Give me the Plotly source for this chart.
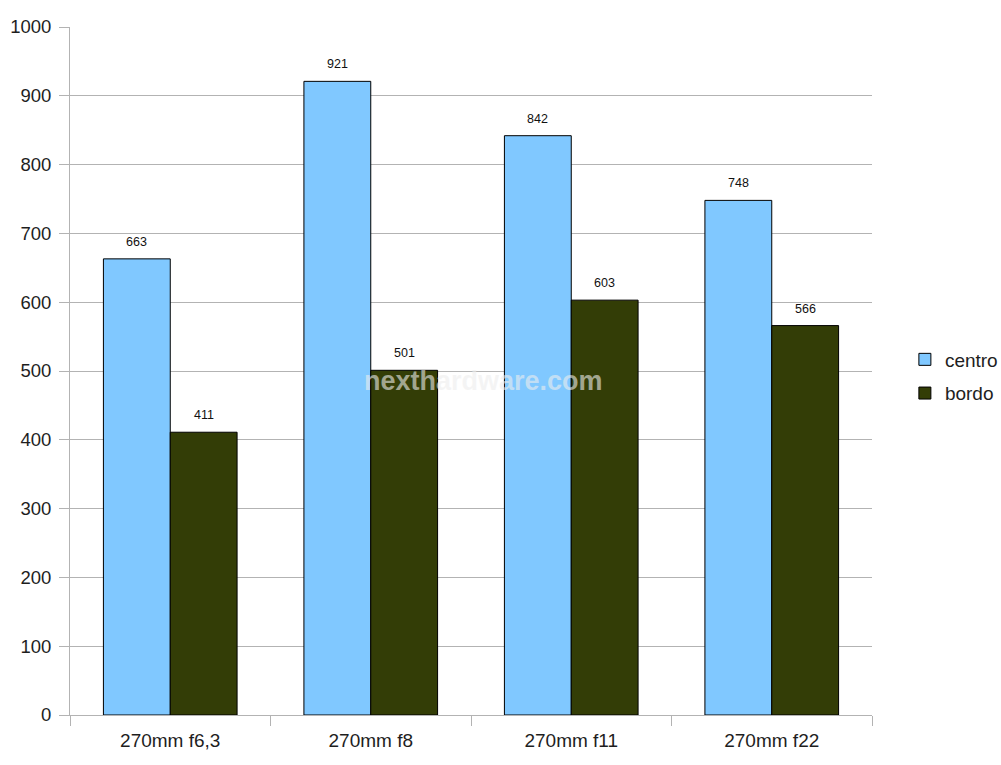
import plotly.graph_objects as go

categories = ["270mm f6,3", "270mm f8", "270mm f11", "270mm f22"]
centro = [663, 921, 842, 748]
bordo = [411, 501, 603, 566]
y_ticks = [0, 100, 200, 300, 400, 500, 600, 700, 800, 900, 1000]

LABEL_FONT = dict(family="Liberation Sans, Arial", size=12.5, color="#111111")

fig = go.Figure()
fig.add_trace(go.Bar(
    name="centro", x=categories, y=centro, legendgroup="c",
    marker=dict(color="#80C8FF", line=dict(color="#000000", width=1)),
))
fig.add_trace(go.Bar(
    name="bordo", x=categories, y=bordo, legendgroup="b",
    marker=dict(color="#333D06", line=dict(color="#000000", width=1)),
))

# value labels above each bar (group is 2/3 of the category width)
PLOT_W = 1001 - 70 - 129
half_bar = PLOT_W / len(categories) * (2 / 3) / 4
for series, shift in ((centro, -half_bar), (bordo, half_bar)):
    for cat, v in zip(categories, series):
        fig.add_annotation(
            x=cat, y=v, text=str(v), showarrow=False, xshift=shift, yshift=17,
            font=LABEL_FONT,
        )

fig.add_annotation(
    text="<b>nexthardware.com</b>", xref="paper", yref="paper", x=0.515, y=0.485,
    showarrow=False,
    font=dict(family="Liberation Sans, Arial", size=27, color="rgba(238,238,238,0.6)"),
)

fig.update_layout(
    width=1001, height=765,
    margin=dict(l=70, r=129, t=27, b=50, autoexpand=False),
    paper_bgcolor="#ffffff", plot_bgcolor="#ffffff",
    barmode="group", bargap=1 / 3, bargroupgap=0,
    font=dict(family="Liberation Sans, Arial", size=18, color="#1e1e1e"),
    legend=dict(x=1.041, y=0.492, xanchor="left", yanchor="middle",
                font=dict(size=19, color="#1e1e1e"), itemwidth=30, tracegroupgap=6),
)
fig.update_xaxes(
    showline=True, linecolor="#b3b3b3", linewidth=1,
    ticks="outside", tickson="boundaries", ticklen=10, tickcolor="#b3b3b3",
    showgrid=False, tickfont=dict(size=19), ticklabelstandoff=8,
)
fig.update_yaxes(
    range=[0, 1000], tickvals=y_ticks,
    showline=True, linecolor="#b3b3b3", linewidth=1,
    showgrid=True, gridcolor="#b3b3b3", gridwidth=1,
    ticks="outside", ticklen=10, tickcolor="#b3b3b3",
    tickfont=dict(size=18.5), zeroline=False, ticklabelstandoff=4,
)

fig.write_html("out.html")
